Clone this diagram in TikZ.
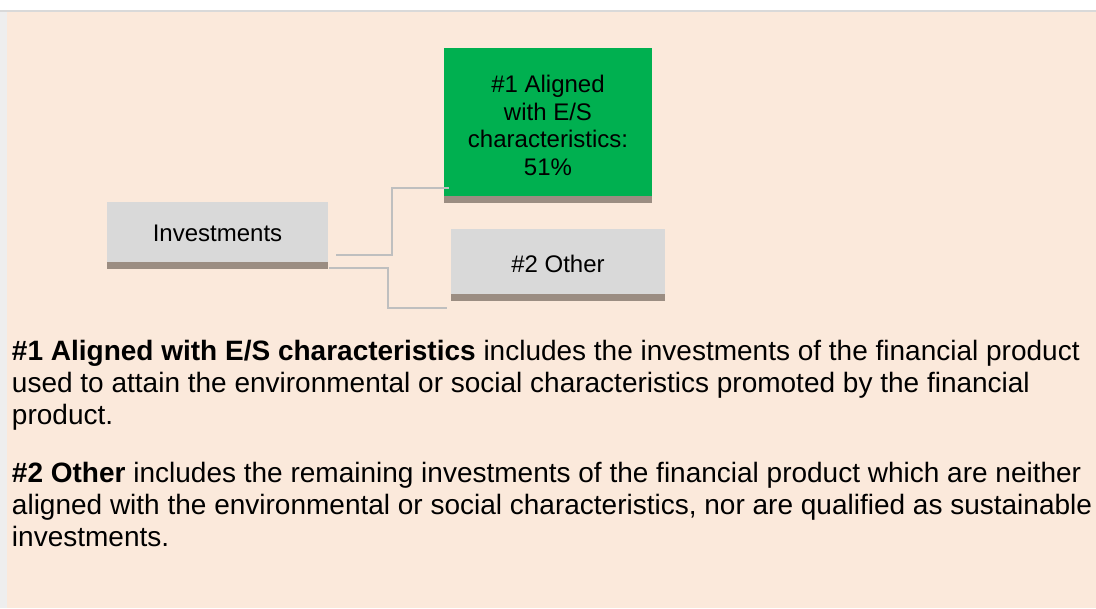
\documentclass[tikz,border=0pt]{standalone}
\usepackage{fontspec}
\setmainfont{Liberation Sans}
\usetikzlibrary{calc}
\definecolor{peach}{RGB}{251,233,219}
\definecolor{topline}{RGB}{217,217,217}
\definecolor{leftstrip}{RGB}{238,238,238}
\definecolor{boxgray}{RGB}{217,217,217}
\definecolor{barbrown}{RGB}{155,141,130}
\definecolor{esgreen}{RGB}{0,176,80}
\definecolor{conn}{RGB}{191,191,191}
\tikzset{
  catbox/.style={inner sep=0pt, outer sep=0pt, align=center,
    font=\fontsize{18}{20.6}\selectfont,
    path picture={\fill[barbrown] ([yshift=5.25pt]path picture bounding box.south west) rectangle (path picture bounding box.south east);}},
  connline/.style={draw=conn, line width=1.5pt},
  bodytext/.style={inner sep=0pt, outer sep=0pt, anchor=base west, align=left,
    font=\fontsize{21}{24}\selectfont}
}
\begin{document}
\begin{tikzpicture}[x=0.75pt,y=-0.75pt]
\useasboundingbox (0,0) rectangle (1096,608);
\fill[white] (0,0) rectangle (1096,608);
\fill[topline] (0,10) rectangle (1096,12);
\fill[leftstrip] (0,12) rectangle (7,608);
\fill[peach] (7,12) rectangle (1096,608);

\node[catbox, fill=boxgray, minimum width=165.75pt, minimum height=50.25pt, text depth=3.75pt] (inv) at (217.5,235.5) {Investments};
\node[catbox, fill=esgreen, minimum width=156pt, minimum height=116.25pt] (aligned) at (548,125.5) {\#1 Aligned\\with E/S\\characteristics:\\51\%};
\node[catbox, fill=boxgray, minimum width=160.5pt, minimum height=54pt, text depth=2.5pt] (other) at (558,265) {\#2 Other};

\coordinate (s1) at ($(inv.east)+(8,19.5)$);
\coordinate (e1) at ($(aligned.west)+(5,62.5)$);
\draw[connline] (s1) -- ++(56,0) |- (e1);
\coordinate (s2) at ($(inv.south east)+(1,-1)$);
\coordinate (e2) at ($(other.south west)+(-4,7)$);
\draw[connline] (s2) -- ++(59,0) |- (e2);

\node[bodytext] (p1) at (12,424.7) {\textbf{\#1 Aligned with E/S characteristics} includes the investments of the financial product\\used to attain the environmental or social characteristics promoted by the financial\\product.};
\node[bodytext] (p2) at (12,546.7) {\textbf{\#2 Other} includes the remaining investments of the financial product which are neither\\aligned with the environmental or social characteristics, nor are qualified as sustainable\\investments.};
\end{tikzpicture}
\end{document}
